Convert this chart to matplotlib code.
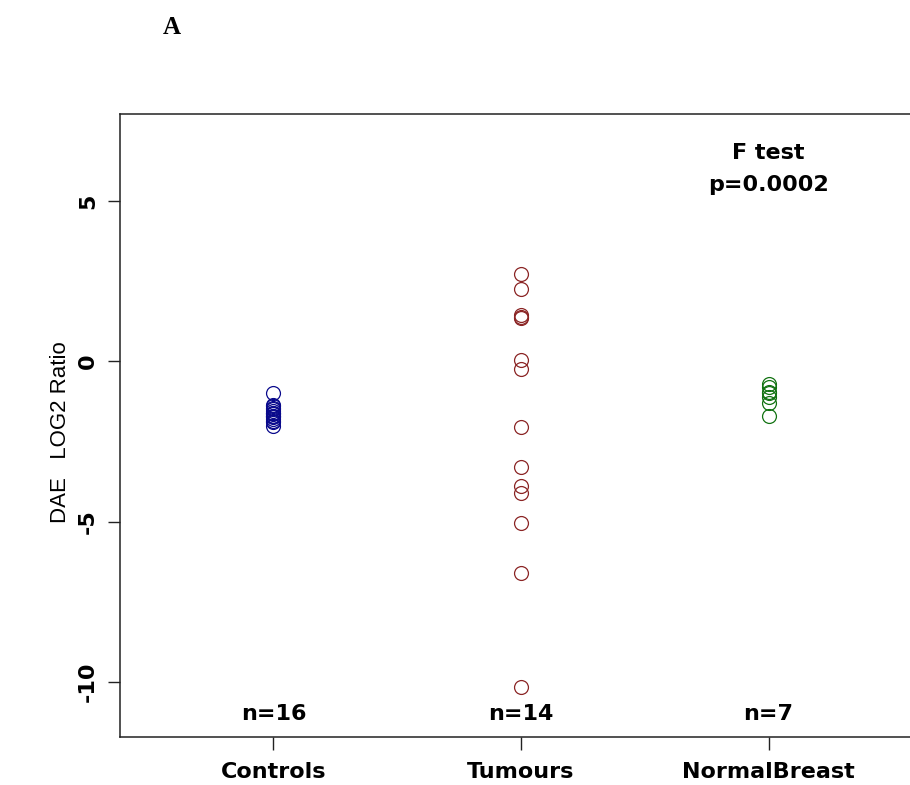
import matplotlib
matplotlib.use("Agg")
import matplotlib.pyplot as plt
import numpy as np

# group names and positions
groups = ["Controls", "Tumours", "NormalBreast"]
group_x = [1, 2, 3]
group_colors = ["#0a0a8c", "#8B2525", "#137313"]

# DAE log2 ratios
controls = [-1.0, -1.35, -1.4, -1.45, -1.5, -1.55, -1.6, -1.6, -1.65, -1.7,
            -1.7, -1.75, -1.8, -1.85, -1.9, -2.0]
tumours = [2.72, 2.25, 1.45, 1.4, 1.35, 0.05, -0.25, -2.05, -3.3, -3.9,
           -4.1, -5.05, -6.6, -10.15]
normal_breast = [-0.7, -0.8, -0.95, -1.0, -1.1, -1.3, -1.7]
values = [controls, tumours, normal_breast]

n_labels = ["n=16", "n=14", "n=7"]
y_ticks = [-10, -5, 0, 5]
test_text = ["F test", "p=0.0002"]

BOLD = dict(fontsize=16, fontweight='bold', family='DejaVu Sans')

#======================================================================================================================

def main():
    plt.rcParams['font.family'] = ['Liberation Sans', 'DejaVu Sans']
    fig = plt.figure(figsize=(9.10, 7.85), dpi=100)
    ax = fig.add_axes([120 / 910, 48 / 785, 802 / 910, 623 / 785])

    for xpos, vals, col in zip(group_x, values, group_colors):
        ax.plot(np.full(len(vals), xpos), vals, 'o', markerfacecolor='none',
                markeredgecolor=col, markeredgewidth=0.9, markersize=10)

    for xpos, lab in zip(group_x, n_labels):
        ax.text(xpos, -11.0, lab, ha='center', va='center', **BOLD)

    ax.text(3, 6.5, test_text[0], ha='center', va='center', **BOLD)
    ax.text(3, 5.5, test_text[1], ha='center', va='center', **BOLD)

    ax.set_xlim(0.38, 3.62)
    ax.set_ylim(-11.72, 7.72)
    ax.set_xticks(group_x)
    ax.set_xticklabels(groups, **BOLD)
    ax.set_yticks(y_ticks)
    ax.set_yticklabels([str(t) for t in y_ticks], rotation=90, va='center', **BOLD)
    ax.tick_params(axis='both', length=9, width=1.0, color='#222222')
    ax.tick_params(axis='x', pad=9)
    ax.tick_params(axis='y', pad=7)
    for sp in ax.spines.values():
        sp.set_linewidth(1.1)
        sp.set_color('#222222')

    fig.text(60 / 910, 1 - 432 / 785, "DAE   LOG2 Ratio", rotation=90,
             ha='center', va='center', fontsize=16)
    fig.text(172 / 910, 1 - 27 / 785, "A", ha='center', va='center', fontsize=18,
             fontweight='bold', family='Liberation Serif')

    fig.savefig("out.png", dpi=100)

#======================================================================================================================

if __name__ == "__main__":
    main()
